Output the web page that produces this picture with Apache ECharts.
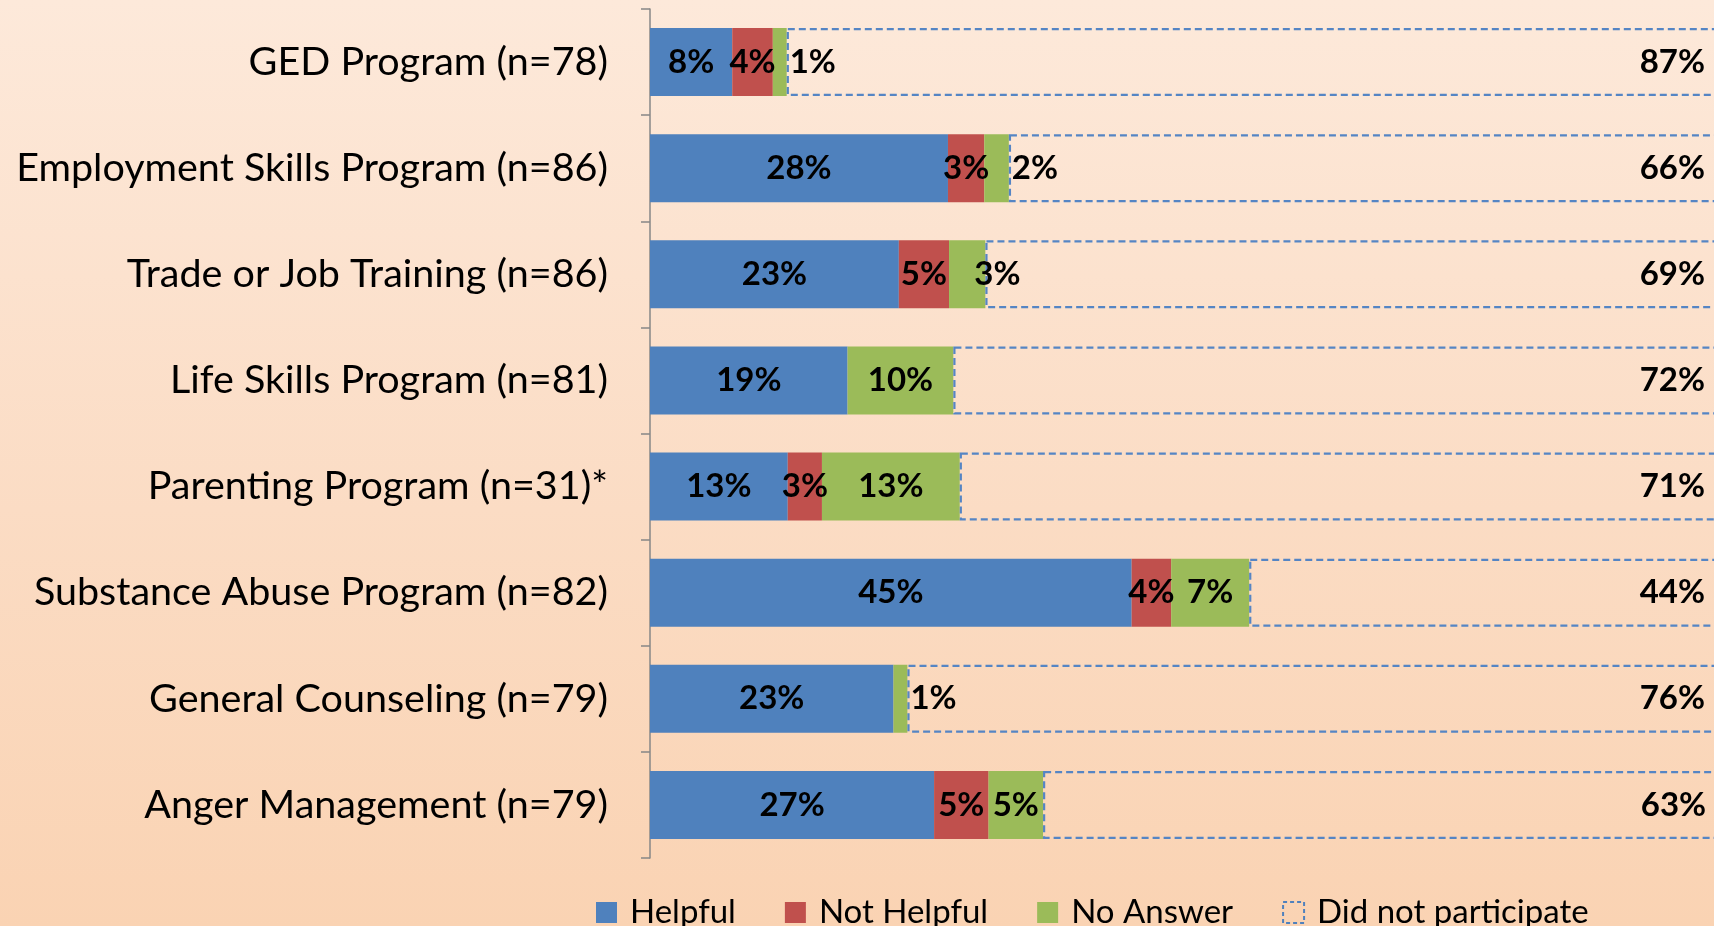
<!DOCTYPE html>
<html>
<head>
<meta charset="utf-8">
<title>Program helpfulness</title>
<script src="https://cdn.jsdelivr.net/npm/echarts@6/dist/echarts.min.js"></script>
<style>
  html, body {
    margin: 0;
    padding: 0;
    width: 100%;
    height: 100%;
    overflow: hidden;
  }
  body {
    background: linear-gradient(to bottom, #fde9da 0%, #fbdcc4 55%, #fad3b3 100%);
  }
  /* a bit wider than the window so the open right end of the dashed bars is cut off */
  #chart {
    width: 1724px;
    height: 926px;
  }
</style>
</head>
<body>
<div id="chart"></div>
<script>
  // categories, top to bottom
  const categories = [
    "GED Program (n=78)",
    "Employment Skills Program (n=86)",
    "Trade or Job Training (n=86)",
    "Life Skills Program (n=81)",
    "Parenting Program (n=31)*",
    "Substance Abuse Program (n=82)",
    "General Counseling (n=79)",
    "Anger Management (n=79)"
  ];
  // percentages
  const helpful = [7.7, 27.9, 23.3, 18.5, 12.9, 45.1, 22.8, 26.6];
  const notHelpful = [3.8, 3.4, 4.7, 0, 3.2, 3.7, 0, 5.1];
  const noAnswer = [1.3, 2.3, 3.4, 9.9, 12.9, 7.3, 1.3, 5.1];
  const didNotParticipate = [87.2, 66.4, 68.6, 71.6, 71.0, 43.9, 75.9, 63.3];

  const font = "Lato, 'Open Sans', sans-serif";
  const blue = "#4f81bd";
  const red = "#c0504d";
  const green = "#9bbb59";

  function pct(p) {
    return p.value > 0 ? Math.round(p.value) + "%" : "";
  }

  const labelStyle = {
    show: true,
    position: "inside",
    color: "#000",
    fontFamily: font,
    fontWeight: "bold",
    fontSize: 33,
    formatter: pct
  };

  // small "No Answer" slices get their label outside the bar
  const noAnswerData = noAnswer.map(v => {
    if (v < 3) {
      return { value: v, label: { position: "right", distance: 3 } };
    }
    if (v < 4) {
      return { value: v, label: { position: "right", distance: 3, offset: [-14, 0] } };
    }
    return v;
  });

  const myChart = echarts.init(document.getElementById("chart"));
  const option = {
    backgroundColor: "transparent",
    animation: false,
    grid: {
      left: 650,
      right: 6,
      top: 9,
      bottom: 68,
      containLabel: false
    },
    legend: {
      left: 591,
      top: 891,
      itemWidth: 21,
      itemHeight: 21,
      itemGap: 49,
      textStyle: {
        fontFamily: font,
        fontSize: 33,
        color: "#000",
        padding: [0, 0, 0, 8]
      },
      data: [
        { name: "Helpful", icon: "rect" },
        { name: "Not Helpful", icon: "rect" },
        { name: "No Answer", icon: "rect" },
        {
          name: "Did not participate",
          icon: "rect",
          itemStyle: {
            color: "transparent",
            borderColor: blue,
            borderWidth: 2,
            borderType: [4, 3]
          }
        }
      ]
    },
    xAxis: {
      type: "value",
      min: 0,
      max: 100,
      show: false
    },
    yAxis: {
      type: "category",
      inverse: true,
      data: categories,
      axisLine: {
        show: true,
        lineStyle: { color: "#878787", width: 1.5 }
      },
      axisTick: {
        show: true,
        length: 9,
        lineStyle: { color: "#878787", width: 1.5 }
      },
      axisLabel: {
        margin: 42,
        color: "#000",
        fontFamily: font,
        fontSize: 39.5
      },
      splitLine: { show: false }
    },
    series: [
      {
        name: "Helpful",
        type: "bar",
        stack: "total",
        barWidth: 68,
        itemStyle: { color: blue },
        label: labelStyle,
        data: helpful
      },
      {
        name: "Not Helpful",
        type: "bar",
        stack: "total",
        barWidth: 68,
        itemStyle: { color: red },
        label: labelStyle,
        data: notHelpful
      },
      {
        name: "No Answer",
        type: "bar",
        stack: "total",
        barWidth: 68,
        itemStyle: { color: green },
        label: labelStyle,
        data: noAnswerData
      },
      {
        name: "Did not participate",
        type: "bar",
        stack: "total",
        barWidth: 68,
        itemStyle: {
          color: "transparent",
          borderColor: "#5585c4",
          borderWidth: 2.2,
          borderType: [7, 4]
        },
        label: Object.assign({}, labelStyle, {
          position: "insideRight",
          distance: 13
        }),
        data: didNotParticipate
      }
    ]
  };
  myChart.setOption(option);
  window.addEventListener("resize", () => {
    myChart.resize();
  });
</script>
</body>
</html>
